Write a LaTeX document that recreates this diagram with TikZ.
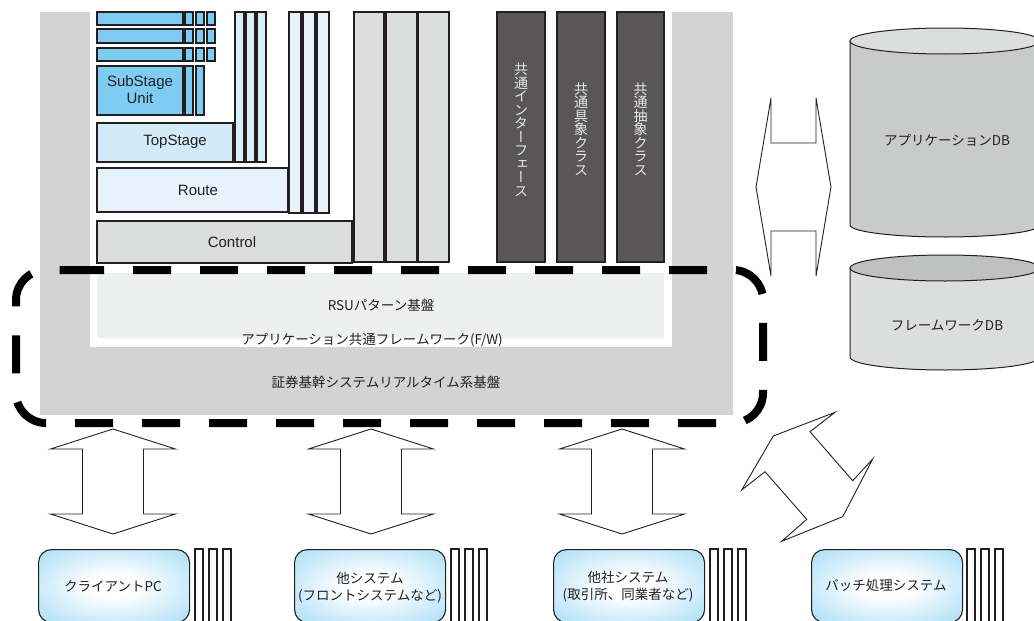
\documentclass[tikz,border=0pt]{standalone}
\usepackage{fontspec}
\setmainfont{Liberation Sans}
\newfontfamily\cjk{Noto Sans CJK JP}
\newfontfamily\cjkv[RawFeature=+vert]{Noto Sans CJK JP}
\definecolor{edge}{HTML}{231F20}
\definecolor{outergray}{HTML}{D3D3D3}
\definecolor{rsugray}{HTML}{EEEFEF}
\definecolor{blu}{HTML}{7FCCF2}
\definecolor{tsblue}{HTML}{D3EBF8}
\definecolor{tbarA}{HTML}{D9EEF9}
\definecolor{routeblue}{HTML}{E6F3FC}
\definecolor{ctrlgray}{HTML}{DCDDDD}
\definecolor{darkbar}{HTML}{585657}
\definecolor{vtext}{HTML}{E8E8E8}
\definecolor{dbbody}{HTML}{C9CACA}
\definecolor{dbtop}{HTML}{DCDDDD}
\definecolor{dbtopdark}{HTML}{BFC0C0}
\definecolor{skyb}{HTML}{7DCDF3}
\pgfdeclareradialshading{boxshade}{\pgfpoint{0bp}{0bp}}{color(0bp)=(white); color(8bp)=(white); color(50bp)=(skyb); color(100bp)=(skyb)}
\begin{document}
\begin{tikzpicture}[x=1pt,y=-1pt,
  bx/.style={draw=edge, line width=1.2pt, anchor=north west, inner sep=0pt, outer sep=0pt},
  lt/.style={font=\fontsize{15}{18}\selectfont, text=edge, inner sep=0pt, align=center},
  jl/.style={font=\cjk\fontsize{13.5}{17}\selectfont, text=edge, inner sep=0pt, align=center},
  vt/.style={font=\cjkv\fontsize{14}{13.5}\selectfont, text=vtext, inner sep=0pt, align=center},
  dashbd/.style={line width=8pt, dash pattern=on 38pt off 29pt, rounded corners=30pt, black},
  barrow/.style={draw=edge, fill=white, line width=0.9pt, line join=miter},
  dbline/.style={draw=edge, line width=1pt},
  sysbox/.style={draw=edge, line width=1.1pt, anchor=north west, inner sep=0pt, rounded corners=13pt,
     shade, shading=boxshade, minimum width=151pt, minimum height=73pt},
  sbar/.style={bx, fill=white, minimum width=8pt, minimum height=73pt},
  udarrow/.pic={\draw[barrow] (0,0) -- (62.5,20) -- (30.5,20) -- (30.5,85) -- (62.5,85) -- (0,105)
     -- (-62.5,85) -- (-30.5,85) -- (-30.5,20) -- (-62.5,20) -- cycle;}
]
\useasboundingbox (0,0) rectangle (1034,621);
% base regions
\fill[outergray] (40,12) rectangle (733,415);
\fill[white] (90,12) rectangle (672,347);
\node[bx, draw=none, fill=rsugray, minimum width=567pt, minimum height=65pt] (rsu) at (97,273) {};
% small blue rows
\foreach \y/\h [count=\i] in {12/13, 29/14, 48/13} {
  \node[bx, fill=blu, minimum width=86pt, minimum height=\h pt] (row\i) at (97,\y) {};
  \node[bx, fill=blu, minimum width=8pt, minimum height=\h pt] (row\i a) at (185,\y) {};
  \node[bx, fill=blu, minimum width=8pt, minimum height=\h pt] (row\i b) at (196,\y) {};
  \node[bx, fill=blu, minimum width=8pt, minimum height=\h pt] (row\i c) at (207,\y) {};
}
\node[bx, fill=blu, minimum width=86pt, minimum height=49pt] (substage) at (97,66) {};
\node[bx, fill=blu, minimum width=8pt, minimum height=49pt] (subbar1) at (185,66) {};
\node[bx, fill=blu, minimum width=8pt, minimum height=49pt] (subbar2) at (196,66) {};
\node[lt] (substagetxt) at (140,90) {SubStage\\[-1pt]Unit};
% TopStage
\node[bx, fill=tsblue, minimum width=136pt, minimum height=39pt] (topstage) at (97,123) {};
\node[lt] (topstagetxt) at (175,142) {TopStage};
\foreach \x [count=\i] in {235,246,257}
  \node[bx, fill=tbarA, minimum width=9pt, minimum height=150pt] (tbar\i) at (\x,12) {};
% Route
\node[bx, fill=routeblue, minimum width=191pt, minimum height=44pt] (route) at (97,168) {};
\node[lt] (routetxt) at (198,190) {Route};
\foreach \x [count=\i] in {289,303,317}
  \node[bx, fill=routeblue, minimum width=12pt, minimum height=201pt] (rbar\i) at (\x,12) {};
% Control
\node[bx, fill=ctrlgray, minimum width=255pt, minimum height=42pt] (control) at (97,221) {};
\node[lt] (controltxt) at (232,242) {Control};
\foreach \x/\w [count=\i] in {354/30,386/31,418/31}
  \node[bx, fill=ctrlgray, minimum width=\w pt, minimum height=250pt] (gbar\i) at (\x,12) {};
% dark bars
\node[bx, fill=darkbar, minimum width=48pt, minimum height=250pt] (dbar1) at (497,12) {};
\node[bx, fill=darkbar, minimum width=48pt, minimum height=250pt] (dbar2) at (557,12) {};
\node[bx, fill=darkbar, minimum width=47pt, minimum height=250pt] (dbar3) at (617,12) {};
\node[vt] (ifacetxt) at (521,130) {共\\通\\イ\\ン\\タ\\ー\\フ\\ェ\\ー\\ス};
\node[vt] (concretetxt) at (581,129) {共\\通\\具\\象\\ク\\ラ\\ス};
\node[vt] (abstracttxt) at (640.5,129) {共\\通\\抽\\象\\ク\\ラ\\ス};
% layer texts
\node[jl] (rsutxt) at (381,305) {RSUパターン基盤};
\node[jl] (fwtxt) at (372,340) {アプリケーション共通フレームワーク(F/W)};
\node[jl] (basetxt) at (386,382) {証券基幹システムリアルタイム系基盤};
% dashed boundary
\draw[dashbd] (66,270) -- (763,270) -- (763,423) -- (16,423) -- (16,270) -- (66,270);
% DBs
\filldraw[dbline, fill=dbbody] (850,41) -- (850,225) arc[start angle=180, end angle=360, x radius=95pt, y radius=12pt] -- (1040,41) -- cycle;
\filldraw[dbline, fill=dbtop] (945,41) ellipse[x radius=95pt, y radius=13pt];
\node[jl] (appdb) at (947,140) {アプリケーションDB};
\filldraw[dbline, fill=dbtop] (850,268) -- (850,357) arc[start angle=180, end angle=360, x radius=95pt, y radius=13pt] -- (1040,268) -- cycle;
\filldraw[dbline, fill=dbtopdark] (945,268) ellipse[x radius=95pt, y radius=13pt];
\node[jl] (fwdb) at (947,325) {フレームワークDB};
% block arrows
\draw[barrow] (756,187) -- (771,98) -- (771,143) -- (816,143) -- (816,98) -- (831,187)
   -- (816,276) -- (816,231) -- (771,231) -- (771,276) -- cycle;
\draw[barrow] (773.3,436) -- (835,412.3) -- (810,431.7) -- (852.7,480.7) -- (872.7,459)
   -- (842.7,516.7) -- (781.7,541.3) -- (806.7,519.3) -- (765,471.7) -- (741.7,490) -- cycle;
\pic (arrowA) at (113,429) {udarrow};
\pic (arrowB) at (371,429) {udarrow};
\pic (arrowC) at (622,429) {udarrow};
% bottom systems
\node[sysbox] (client) at (38,549) {};
\node[sysbox] (other) at (294,549) {};
\node[sysbox] (company) at (553,549) {};
\node[sysbox] (batch) at (811,549) {};
\foreach \x [count=\i] in {195,209,223,451,465,479,710,724,738,967,981,995}
  \node[sbar] (sbar\i) at (\x,549) {};
\node[jl] (clienttxt) at (113,586) {クライアントPC};
\node[jl] (othertxt) at (370,588) {他システム\\(フロントシステムなど)};
\node[jl] (companytxt) at (628,587) {他社システム\\(取引所、同業者など)};
\node[jl] (batchtxt) at (886,585) {バッチ処理システム};
\end{tikzpicture}
\end{document}
